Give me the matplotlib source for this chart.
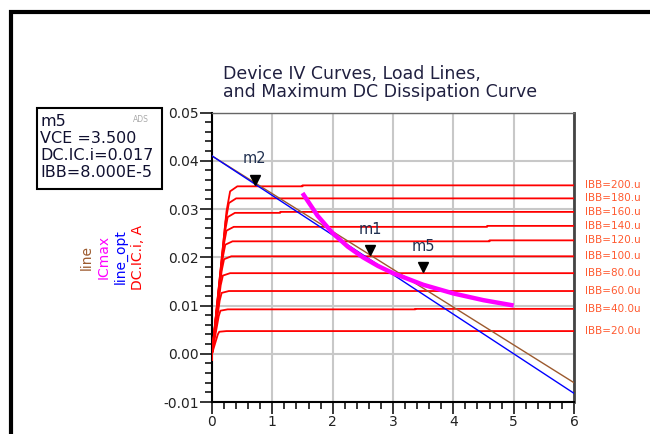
import numpy as np
import matplotlib.pyplot as plt
from matplotlib.patches import Rectangle
from matplotlib.ticker import MultipleLocator

plt.rcParams['font.family'] = ['DejaVu Sans']

# ---- data ----
ibb_labels = ["IBB=200.u", "IBB=180.u", "IBB=160.u", "IBB=140.u", "IBB=120.u",
              "IBB=100.u", "IBB=80.0u", "IBB=60.0u", "IBB=40.0u", "IBB=20.0u"]
# flat collector current of each IV curve (before / after the small step)
ic_flat = [0.0347, 0.0322, 0.0292, 0.0263, 0.0233, 0.0202, 0.0167, 0.0130, 0.0092, 0.0047]
ic_step = [0.0349, 0.0322, 0.0294, 0.0265, 0.0235, 0.0202, 0.0167, 0.0130, 0.0093, 0.0047]
v_step = [1.5, 3.0, 1.13, 4.56, 4.6, 3.0, 3.0, 3.0, 3.37, 3.0]
v_knee = [0.30, 0.28, 0.26, 0.24, 0.22, 0.20, 0.18, 0.16, 0.14, 0.12]

# load lines
line_v = [0.0, 6.0]
line_i = [0.041, -0.0060]
line_opt_v = [0.0, 6.0]
line_opt_i = [0.041, -0.0082]

# maximum DC dissipation curve
icmax_v = [1.5, 1.75, 2.0, 2.25, 2.5, 2.75, 3.0, 3.5, 4.0, 4.5, 5.0]
icmax_i = [0.0333, 0.0286, 0.0250, 0.0222, 0.0200, 0.0182, 0.0167, 0.0143, 0.0125, 0.0111, 0.0100]

# markers
mk_names = ["m2", "m1", "m5"]
mk_v = [0.71, 2.62, 3.5]
mk_i = [0.0349, 0.0202, 0.0167]

W, H = 650, 434
fig = plt.figure(figsize=(6.5, 4.34), dpi=100)
ax = fig.add_axes([212/W, 1 - 402/H, 362/W, 289.5/H])

# outer frame
fig.patches.append(Rectangle((11/W, -0.1), 1.2, 1 - 12/H + 0.1, transform=fig.transFigure,
                             fill=False, lw=3, ec='black', zorder=0))

ax.grid(True, color='#c8c8c8', lw=1.5)
ax.set_axisbelow(True)

for k in range(len(ic_flat)):
    vv = [0.0, 0.0, v_knee[k] * 0.8, v_knee[k], v_knee[k] + 0.12, v_step[k], v_step[k], 6.0]
    ii = [-0.0012, 0.0, ic_flat[k] * 0.85, ic_flat[k] * 0.97, ic_flat[k], ic_flat[k],
          ic_step[k], ic_step[k]]
    ax.plot(vv, ii, color='red', lw=1.3, zorder=3)
    ax.text(1.03, ic_step[k], ibb_labels[k], transform=ax.get_yaxis_transform(),
            color='#ff5a30', fontsize=7.5, va='center', ha='left')

ax.plot(line_v, line_i, color='#9c5a2e', lw=1.0, zorder=4)
ax.plot(line_opt_v, line_opt_i, color='blue', lw=1.0, zorder=4)
ax.plot(icmax_v, icmax_i, color='#ff00ff', lw=3.2, solid_capstyle='butt', zorder=5)

for name, v, i in zip(mk_names, mk_v, mk_i):
    ax.plot(v, i + 0.0012, marker='v', color='black', ms=7, zorder=6)
    ax.annotate(name, (v, i), xytext=(0, 14), textcoords='offset points',
                ha='center', va='bottom', fontsize=10.5, color='#203050')

ax.set_xlim(0, 6)
ax.set_ylim(-0.01, 0.05)
ax.xaxis.set_major_locator(MultipleLocator(1))
ax.xaxis.set_minor_locator(MultipleLocator(0.2))
ax.yaxis.set_minor_locator(MultipleLocator(0.002))
ax.set_yticks(np.arange(-0.01, 0.051, 0.01))
ax.set_yticklabels(["-0.01", "0.00", "0.01", "0.02", "0.03", "0.04", "0.05"])
ax.tick_params(which='major', length=8.5, width=1.1, pad=1, labelsize=10, colors='black',
               labelcolor='#222222')
ax.tick_params(which='minor', length=5, width=1.1)
ax.spines['left'].set_linewidth(1.5)
ax.spines['bottom'].set_linewidth(1.5)
ax.spines['right'].set_linewidth(2)
ax.spines['right'].set_color('#444444')
ax.spines['top'].set_linewidth(1)
ax.spines['top'].set_color('#666666')

fig.text(223/W, 1 - 79/H, "Device IV Curves, Load Lines,", ha='left', va='baseline',
         fontsize=12.5, color='#202040')
fig.text(223/W, 1 - 97/H, "and Maximum DC Dissipation Curve", ha='left', va='baseline',
         fontsize=12.5, color='#202040')

# stacked y labels
ylab = [("line", '#9c5a2e', 87), ("ICmax", '#ff00ff', 104), ("line_opt", 'blue', 121),
        ("DC.IC.i, A", 'red', 138)]
for txt, col, px in ylab:
    fig.text(px/W, 1 - 257/H, txt, rotation=90, ha='center', va='center',
             color=col, fontsize=10)

# marker readout box
fig.patches.append(Rectangle((37/W, 1 - 189/H), 125/W, 81/H, transform=fig.transFigure,
                             fill=False, lw=1.5, ec='black'))
box_lines = ["m5", "VCE =3.500", "DC.IC.i=0.017", "IBB=8.000E-5"]
for n, t in enumerate(box_lines):
    fig.text(40/W, 1 - (126 + 17*n)/H, t, ha='left', va='baseline', fontsize=11.5,
             color='#101030')
fig.text(141/W, 1 - 120/H, "ADS", ha='center', va='center', fontsize=5.5, color='#aaaaaa')

fig.savefig("out.png", dpi=100)
